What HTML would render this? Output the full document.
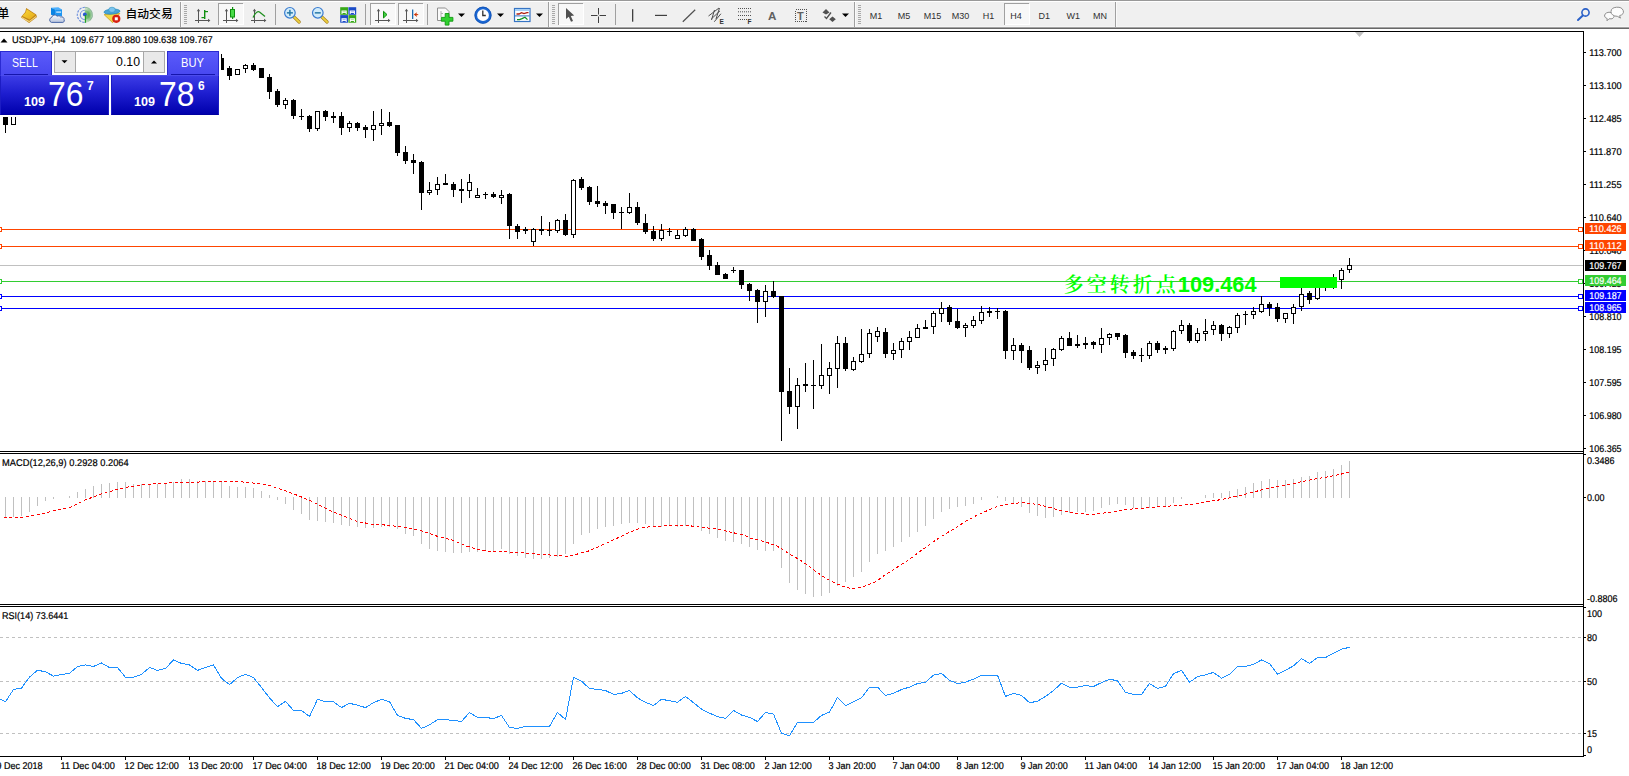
<!DOCTYPE html>
<html lang="zh"><head><meta charset="utf-8"><title>USDJPY-,H4</title>
<style>
html,body{margin:0;padding:0;background:#fff;}
body{width:1629px;height:776px;overflow:hidden;position:relative;font-family:"Liberation Sans", sans-serif;}
#tb{position:absolute;left:0;top:0;width:1629px;height:29px;background:#f0f0f0;}
#tb .l0{position:absolute;left:0;top:0;width:100%;height:1px;background:#999}
#tb .l1{position:absolute;left:0;top:1px;width:100%;height:1px;background:#fff}
#tb .l27{position:absolute;left:0;top:27px;width:100%;height:1px;background:#a2a2a2}
#tb .l26{position:absolute;left:0;top:26px;width:100%;height:1px;background:#f6f6f6}
#tb .l28{position:absolute;left:0;top:28px;width:100%;height:1px;background:#686868}
#pn{position:absolute;left:0;top:49px;width:221px;height:68px;background:#fff;}
#pn div{position:absolute;box-sizing:border-box;}
.tab{top:2px;height:24px;width:52px;background:linear-gradient(#5a5afa,#4848f0);border:1px solid #2a2ad2;border-bottom:none;color:#fff;font-size:12px;}
.tab span{position:absolute;display:block;transform-origin:0 0;white-space:nowrap;}
.pp{top:26px;height:40px;background:linear-gradient(#3c3ce6,#1e1ed0 45%,#0000ac);border:1px solid #1c1cc4;border-top-color:#4c4cec;border-bottom-color:#0000a0;color:#fff;}
.ul{height:1px;background:#1515ac;}
.big{font-size:35.6px;line-height:1;transform-origin:0 0;transform:scaleX(.895);white-space:nowrap;}
.sm{font-size:12px;font-weight:bold;line-height:1;transform-origin:0 0;transform:scaleX(1.05);}
.sup{font-size:12px;line-height:1;font-weight:bold;}
.spin{left:54px;top:2px;width:111px;height:22px;background:#fff;border:1px solid #a8a8a8;}
.sb{top:0;width:21px;height:20px;background:#e9e9e9;}

</style></head><body>
<svg id="chart" width="1629" height="776" viewBox="0 0 1629 776" shape-rendering="crispEdges" style="position:absolute;left:0;top:0"><rect x="0" y="31" width="1584" height="1" fill="#000"/>
<rect x="1583" y="31" width="1" height="726" fill="#000"/>
<rect x="0" y="451" width="1584" height="1" fill="#000"/>
<rect x="0" y="453" width="1584" height="1" fill="#000"/>
<rect x="0" y="604" width="1584" height="1" fill="#000"/>
<rect x="0" y="606" width="1584" height="1" fill="#000"/>
<rect x="0" y="756" width="1584" height="1" fill="#000"/>
<polygon points="1355,32 1364,32 1359.5,37" fill="#c0c0c0" shape-rendering="geometricPrecision"/>
<rect x="0" y="265" width="1583" height="1" fill="#c0c0c0"/>
<rect x="0" y="229" width="1583" height="1" fill="#ff4500"/>
<rect x="0" y="246" width="1583" height="1" fill="#ff4500"/>
<rect x="0" y="281" width="1583" height="1" fill="#32cd32"/>
<rect x="0" y="296" width="1583" height="1" fill="#0000ff"/>
<rect x="0" y="308" width="1583" height="1" fill="#0000ff"/>
<rect x="5" y="117" width="1" height="16" fill="#000"/>
<rect x="3" y="117" width="5" height="8" fill="#000"/>
<rect x="13" y="117" width="1" height="8" fill="#000"/>
<rect x="11" y="112" width="5" height="13" fill="#000"/>
<rect x="12" y="112" width="3" height="12" fill="#fff"/>
<rect x="221" y="54" width="1" height="16" fill="#000"/>
<rect x="219" y="58" width="5" height="12" fill="#000"/>
<rect x="229" y="66" width="1" height="14" fill="#000"/>
<rect x="227" y="68" width="5" height="8" fill="#000"/>
<rect x="237" y="69" width="1" height="6" fill="#000"/>
<rect x="235" y="69" width="5" height="6" fill="#000"/>
<rect x="236" y="70" width="3" height="4" fill="#fff"/>
<rect x="245" y="64" width="1" height="9" fill="#000"/>
<rect x="243" y="65" width="5" height="4" fill="#000"/>
<rect x="244" y="66" width="3" height="2" fill="#fff"/>
<rect x="253" y="63" width="1" height="8" fill="#000"/>
<rect x="251" y="65" width="5" height="5" fill="#000"/>
<rect x="261" y="68" width="1" height="10" fill="#000"/>
<rect x="259" y="68" width="5" height="10" fill="#000"/>
<rect x="269" y="74" width="1" height="25" fill="#000"/>
<rect x="267" y="77" width="5" height="15" fill="#000"/>
<rect x="277" y="89" width="1" height="18" fill="#000"/>
<rect x="275" y="91" width="5" height="14" fill="#000"/>
<rect x="285" y="98" width="1" height="11" fill="#000"/>
<rect x="283" y="100" width="5" height="5" fill="#000"/>
<rect x="284" y="101" width="3" height="3" fill="#fff"/>
<rect x="293" y="99" width="1" height="20" fill="#000"/>
<rect x="291" y="100" width="5" height="16" fill="#000"/>
<rect x="301" y="109" width="1" height="11" fill="#000"/>
<rect x="299" y="116" width="5" height="1" fill="#000"/>
<rect x="309" y="115" width="1" height="17" fill="#000"/>
<rect x="307" y="116" width="5" height="13" fill="#000"/>
<rect x="317" y="111" width="1" height="20" fill="#000"/>
<rect x="315" y="111" width="5" height="18" fill="#000"/>
<rect x="316" y="112" width="3" height="16" fill="#fff"/>
<rect x="325" y="110" width="1" height="11" fill="#000"/>
<rect x="323" y="111" width="5" height="6" fill="#000"/>
<rect x="333" y="112" width="1" height="11" fill="#000"/>
<rect x="331" y="116" width="5" height="2" fill="#000"/>
<rect x="341" y="112" width="1" height="23" fill="#000"/>
<rect x="339" y="116" width="5" height="12" fill="#000"/>
<rect x="349" y="121" width="1" height="11" fill="#000"/>
<rect x="347" y="123" width="5" height="5" fill="#000"/>
<rect x="348" y="124" width="3" height="3" fill="#fff"/>
<rect x="357" y="122" width="1" height="9" fill="#000"/>
<rect x="355" y="123" width="5" height="5" fill="#000"/>
<rect x="365" y="125" width="1" height="13" fill="#000"/>
<rect x="363" y="127" width="5" height="3" fill="#000"/>
<rect x="373" y="111" width="1" height="30" fill="#000"/>
<rect x="371" y="125" width="5" height="5" fill="#000"/>
<rect x="372" y="126" width="3" height="3" fill="#fff"/>
<rect x="381" y="109" width="1" height="26" fill="#000"/>
<rect x="379" y="123" width="5" height="3" fill="#000"/>
<rect x="380" y="124" width="3" height="1" fill="#fff"/>
<rect x="389" y="112" width="1" height="15" fill="#000"/>
<rect x="387" y="122" width="5" height="4" fill="#000"/>
<rect x="397" y="125" width="1" height="31" fill="#000"/>
<rect x="395" y="125" width="5" height="28" fill="#000"/>
<rect x="405" y="146" width="1" height="18" fill="#000"/>
<rect x="403" y="152" width="5" height="9" fill="#000"/>
<rect x="413" y="154" width="1" height="20" fill="#000"/>
<rect x="411" y="160" width="5" height="3" fill="#000"/>
<rect x="421" y="161" width="1" height="49" fill="#000"/>
<rect x="419" y="162" width="5" height="31" fill="#000"/>
<rect x="429" y="182" width="1" height="13" fill="#000"/>
<rect x="427" y="190" width="5" height="3" fill="#000"/>
<rect x="428" y="191" width="3" height="1" fill="#fff"/>
<rect x="437" y="177" width="1" height="18" fill="#000"/>
<rect x="435" y="184" width="5" height="6" fill="#000"/>
<rect x="436" y="185" width="3" height="4" fill="#fff"/>
<rect x="445" y="174" width="1" height="11" fill="#000"/>
<rect x="443" y="183" width="5" height="2" fill="#000"/>
<rect x="453" y="182" width="1" height="15" fill="#000"/>
<rect x="451" y="184" width="5" height="6" fill="#000"/>
<rect x="461" y="179" width="1" height="24" fill="#000"/>
<rect x="459" y="189" width="5" height="2" fill="#000"/>
<rect x="469" y="174" width="1" height="24" fill="#000"/>
<rect x="467" y="182" width="5" height="9" fill="#000"/>
<rect x="468" y="183" width="3" height="7" fill="#fff"/>
<rect x="477" y="188" width="1" height="10" fill="#000"/>
<rect x="475" y="195" width="5" height="3" fill="#000"/>
<rect x="476" y="196" width="3" height="1" fill="#fff"/>
<rect x="485" y="192" width="1" height="7" fill="#000"/>
<rect x="483" y="194" width="5" height="1" fill="#000"/>
<rect x="493" y="192" width="1" height="6" fill="#000"/>
<rect x="491" y="194" width="5" height="3" fill="#000"/>
<rect x="501" y="190" width="1" height="14" fill="#000"/>
<rect x="499" y="195" width="5" height="3" fill="#000"/>
<rect x="500" y="196" width="3" height="1" fill="#fff"/>
<rect x="509" y="193" width="1" height="46" fill="#000"/>
<rect x="507" y="194" width="5" height="32" fill="#000"/>
<rect x="517" y="224" width="1" height="15" fill="#000"/>
<rect x="515" y="226" width="5" height="6" fill="#000"/>
<rect x="525" y="227" width="1" height="7" fill="#000"/>
<rect x="523" y="229" width="5" height="2" fill="#000"/>
<rect x="533" y="228" width="1" height="18" fill="#000"/>
<rect x="531" y="229" width="5" height="13" fill="#000"/>
<rect x="532" y="230" width="3" height="11" fill="#fff"/>
<rect x="541" y="216" width="1" height="19" fill="#000"/>
<rect x="539" y="229" width="5" height="2" fill="#000"/>
<rect x="549" y="222" width="1" height="14" fill="#000"/>
<rect x="547" y="230" width="5" height="1" fill="#000"/>
<rect x="557" y="219" width="1" height="14" fill="#000"/>
<rect x="555" y="220" width="5" height="11" fill="#000"/>
<rect x="556" y="221" width="3" height="9" fill="#fff"/>
<rect x="565" y="214" width="1" height="22" fill="#000"/>
<rect x="563" y="220" width="5" height="15" fill="#000"/>
<rect x="573" y="179" width="1" height="59" fill="#000"/>
<rect x="571" y="180" width="5" height="55" fill="#000"/>
<rect x="572" y="181" width="3" height="53" fill="#fff"/>
<rect x="581" y="177" width="1" height="13" fill="#000"/>
<rect x="579" y="179" width="5" height="9" fill="#000"/>
<rect x="589" y="186" width="1" height="19" fill="#000"/>
<rect x="587" y="187" width="5" height="15" fill="#000"/>
<rect x="597" y="186" width="1" height="21" fill="#000"/>
<rect x="595" y="201" width="5" height="3" fill="#000"/>
<rect x="605" y="201" width="1" height="13" fill="#000"/>
<rect x="603" y="203" width="5" height="3" fill="#000"/>
<rect x="613" y="204" width="1" height="15" fill="#000"/>
<rect x="611" y="204" width="5" height="9" fill="#000"/>
<rect x="621" y="207" width="1" height="22" fill="#000"/>
<rect x="619" y="212" width="5" height="1" fill="#000"/>
<rect x="629" y="193" width="1" height="21" fill="#000"/>
<rect x="627" y="207" width="5" height="6" fill="#000"/>
<rect x="628" y="208" width="3" height="4" fill="#fff"/>
<rect x="637" y="202" width="1" height="23" fill="#000"/>
<rect x="635" y="207" width="5" height="16" fill="#000"/>
<rect x="645" y="214" width="1" height="20" fill="#000"/>
<rect x="643" y="223" width="5" height="9" fill="#000"/>
<rect x="653" y="226" width="1" height="15" fill="#000"/>
<rect x="651" y="231" width="5" height="8" fill="#000"/>
<rect x="661" y="224" width="1" height="17" fill="#000"/>
<rect x="659" y="230" width="5" height="9" fill="#000"/>
<rect x="660" y="231" width="3" height="7" fill="#fff"/>
<rect x="669" y="228" width="1" height="8" fill="#000"/>
<rect x="667" y="231" width="5" height="1" fill="#000"/>
<rect x="677" y="230" width="1" height="9" fill="#000"/>
<rect x="675" y="235" width="5" height="4" fill="#000"/>
<rect x="676" y="236" width="3" height="2" fill="#fff"/>
<rect x="685" y="227" width="1" height="10" fill="#000"/>
<rect x="683" y="229" width="5" height="7" fill="#000"/>
<rect x="684" y="230" width="3" height="5" fill="#fff"/>
<rect x="693" y="228" width="1" height="13" fill="#000"/>
<rect x="691" y="229" width="5" height="12" fill="#000"/>
<rect x="701" y="238" width="1" height="22" fill="#000"/>
<rect x="699" y="239" width="5" height="18" fill="#000"/>
<rect x="709" y="250" width="1" height="20" fill="#000"/>
<rect x="707" y="255" width="5" height="11" fill="#000"/>
<rect x="717" y="262" width="1" height="13" fill="#000"/>
<rect x="715" y="265" width="5" height="10" fill="#000"/>
<rect x="725" y="273" width="1" height="6" fill="#000"/>
<rect x="723" y="274" width="5" height="5" fill="#000"/>
<rect x="733" y="267" width="1" height="6" fill="#000"/>
<rect x="731" y="270" width="5" height="1" fill="#000"/>
<rect x="741" y="270" width="1" height="19" fill="#000"/>
<rect x="739" y="270" width="5" height="15" fill="#000"/>
<rect x="749" y="283" width="1" height="18" fill="#000"/>
<rect x="747" y="284" width="5" height="7" fill="#000"/>
<rect x="757" y="289" width="1" height="34" fill="#000"/>
<rect x="755" y="290" width="5" height="12" fill="#000"/>
<rect x="765" y="285" width="1" height="32" fill="#000"/>
<rect x="763" y="291" width="5" height="11" fill="#000"/>
<rect x="764" y="292" width="3" height="9" fill="#fff"/>
<rect x="773" y="281" width="1" height="17" fill="#000"/>
<rect x="771" y="291" width="5" height="6" fill="#000"/>
<rect x="781" y="296" width="1" height="145" fill="#000"/>
<rect x="779" y="296" width="5" height="96" fill="#000"/>
<rect x="789" y="368" width="1" height="46" fill="#000"/>
<rect x="787" y="391" width="5" height="16" fill="#000"/>
<rect x="797" y="378" width="1" height="51" fill="#000"/>
<rect x="795" y="385" width="5" height="22" fill="#000"/>
<rect x="796" y="386" width="3" height="20" fill="#fff"/>
<rect x="805" y="363" width="1" height="29" fill="#000"/>
<rect x="803" y="384" width="5" height="2" fill="#000"/>
<rect x="813" y="360" width="1" height="49" fill="#000"/>
<rect x="811" y="385" width="5" height="1" fill="#000"/>
<rect x="821" y="344" width="1" height="45" fill="#000"/>
<rect x="819" y="375" width="5" height="11" fill="#000"/>
<rect x="820" y="376" width="3" height="9" fill="#fff"/>
<rect x="829" y="362" width="1" height="32" fill="#000"/>
<rect x="827" y="368" width="5" height="8" fill="#000"/>
<rect x="828" y="369" width="3" height="6" fill="#fff"/>
<rect x="837" y="336" width="1" height="52" fill="#000"/>
<rect x="835" y="343" width="5" height="26" fill="#000"/>
<rect x="836" y="344" width="3" height="24" fill="#fff"/>
<rect x="845" y="337" width="1" height="34" fill="#000"/>
<rect x="843" y="343" width="5" height="26" fill="#000"/>
<rect x="853" y="357" width="1" height="14" fill="#000"/>
<rect x="851" y="361" width="5" height="9" fill="#000"/>
<rect x="852" y="362" width="3" height="7" fill="#fff"/>
<rect x="861" y="329" width="1" height="34" fill="#000"/>
<rect x="859" y="354" width="5" height="8" fill="#000"/>
<rect x="860" y="355" width="3" height="6" fill="#fff"/>
<rect x="869" y="329" width="1" height="29" fill="#000"/>
<rect x="867" y="333" width="5" height="21" fill="#000"/>
<rect x="868" y="334" width="3" height="19" fill="#fff"/>
<rect x="877" y="327" width="1" height="15" fill="#000"/>
<rect x="875" y="331" width="5" height="6" fill="#000"/>
<rect x="876" y="332" width="3" height="4" fill="#fff"/>
<rect x="885" y="328" width="1" height="30" fill="#000"/>
<rect x="883" y="332" width="5" height="22" fill="#000"/>
<rect x="893" y="343" width="1" height="17" fill="#000"/>
<rect x="891" y="350" width="5" height="4" fill="#000"/>
<rect x="892" y="351" width="3" height="2" fill="#fff"/>
<rect x="901" y="338" width="1" height="20" fill="#000"/>
<rect x="899" y="341" width="5" height="9" fill="#000"/>
<rect x="900" y="342" width="3" height="7" fill="#fff"/>
<rect x="909" y="331" width="1" height="19" fill="#000"/>
<rect x="907" y="337" width="5" height="5" fill="#000"/>
<rect x="908" y="338" width="3" height="3" fill="#fff"/>
<rect x="917" y="324" width="1" height="14" fill="#000"/>
<rect x="915" y="328" width="5" height="10" fill="#000"/>
<rect x="916" y="329" width="3" height="8" fill="#fff"/>
<rect x="925" y="320" width="1" height="9" fill="#000"/>
<rect x="923" y="327" width="5" height="2" fill="#000"/>
<rect x="933" y="311" width="1" height="23" fill="#000"/>
<rect x="931" y="313" width="5" height="14" fill="#000"/>
<rect x="932" y="314" width="3" height="12" fill="#fff"/>
<rect x="941" y="302" width="1" height="20" fill="#000"/>
<rect x="939" y="308" width="5" height="6" fill="#000"/>
<rect x="940" y="309" width="3" height="4" fill="#fff"/>
<rect x="949" y="305" width="1" height="20" fill="#000"/>
<rect x="947" y="307" width="5" height="15" fill="#000"/>
<rect x="957" y="309" width="1" height="20" fill="#000"/>
<rect x="955" y="321" width="5" height="7" fill="#000"/>
<rect x="965" y="323" width="1" height="14" fill="#000"/>
<rect x="963" y="325" width="5" height="3" fill="#000"/>
<rect x="964" y="326" width="3" height="1" fill="#fff"/>
<rect x="973" y="316" width="1" height="12" fill="#000"/>
<rect x="971" y="320" width="5" height="6" fill="#000"/>
<rect x="972" y="321" width="3" height="4" fill="#fff"/>
<rect x="981" y="306" width="1" height="18" fill="#000"/>
<rect x="979" y="312" width="5" height="9" fill="#000"/>
<rect x="980" y="313" width="3" height="7" fill="#fff"/>
<rect x="989" y="307" width="1" height="10" fill="#000"/>
<rect x="987" y="311" width="5" height="2" fill="#000"/>
<rect x="997" y="308" width="1" height="11" fill="#000"/>
<rect x="995" y="311" width="5" height="1" fill="#000"/>
<rect x="1005" y="310" width="1" height="49" fill="#000"/>
<rect x="1003" y="311" width="5" height="40" fill="#000"/>
<rect x="1013" y="338" width="1" height="22" fill="#000"/>
<rect x="1011" y="345" width="5" height="6" fill="#000"/>
<rect x="1012" y="346" width="3" height="4" fill="#fff"/>
<rect x="1021" y="343" width="1" height="20" fill="#000"/>
<rect x="1019" y="345" width="5" height="6" fill="#000"/>
<rect x="1029" y="346" width="1" height="24" fill="#000"/>
<rect x="1027" y="350" width="5" height="18" fill="#000"/>
<rect x="1037" y="361" width="1" height="13" fill="#000"/>
<rect x="1035" y="365" width="5" height="3" fill="#000"/>
<rect x="1036" y="366" width="3" height="1" fill="#fff"/>
<rect x="1045" y="348" width="1" height="23" fill="#000"/>
<rect x="1043" y="360" width="5" height="5" fill="#000"/>
<rect x="1044" y="361" width="3" height="3" fill="#fff"/>
<rect x="1053" y="348" width="1" height="18" fill="#000"/>
<rect x="1051" y="349" width="5" height="10" fill="#000"/>
<rect x="1052" y="350" width="3" height="8" fill="#fff"/>
<rect x="1061" y="336" width="1" height="15" fill="#000"/>
<rect x="1059" y="338" width="5" height="12" fill="#000"/>
<rect x="1060" y="339" width="3" height="10" fill="#fff"/>
<rect x="1069" y="332" width="1" height="14" fill="#000"/>
<rect x="1067" y="338" width="5" height="8" fill="#000"/>
<rect x="1077" y="335" width="1" height="13" fill="#000"/>
<rect x="1075" y="344" width="5" height="2" fill="#000"/>
<rect x="1085" y="337" width="1" height="12" fill="#000"/>
<rect x="1083" y="343" width="5" height="2" fill="#000"/>
<rect x="1093" y="341" width="1" height="8" fill="#000"/>
<rect x="1091" y="342" width="5" height="3" fill="#000"/>
<rect x="1101" y="328" width="1" height="25" fill="#000"/>
<rect x="1099" y="338" width="5" height="7" fill="#000"/>
<rect x="1100" y="339" width="3" height="5" fill="#fff"/>
<rect x="1109" y="333" width="1" height="12" fill="#000"/>
<rect x="1107" y="334" width="5" height="4" fill="#000"/>
<rect x="1108" y="335" width="3" height="2" fill="#fff"/>
<rect x="1117" y="333" width="1" height="7" fill="#000"/>
<rect x="1115" y="333" width="5" height="4" fill="#000"/>
<rect x="1125" y="334" width="1" height="24" fill="#000"/>
<rect x="1123" y="335" width="5" height="18" fill="#000"/>
<rect x="1133" y="350" width="1" height="9" fill="#000"/>
<rect x="1131" y="352" width="5" height="4" fill="#000"/>
<rect x="1141" y="348" width="1" height="14" fill="#000"/>
<rect x="1139" y="355" width="5" height="1" fill="#000"/>
<rect x="1149" y="341" width="1" height="18" fill="#000"/>
<rect x="1147" y="343" width="5" height="13" fill="#000"/>
<rect x="1148" y="344" width="3" height="11" fill="#fff"/>
<rect x="1157" y="341" width="1" height="12" fill="#000"/>
<rect x="1155" y="343" width="5" height="7" fill="#000"/>
<rect x="1165" y="346" width="1" height="8" fill="#000"/>
<rect x="1163" y="348" width="5" height="2" fill="#000"/>
<rect x="1173" y="330" width="1" height="21" fill="#000"/>
<rect x="1171" y="331" width="5" height="18" fill="#000"/>
<rect x="1172" y="332" width="3" height="16" fill="#fff"/>
<rect x="1181" y="320" width="1" height="14" fill="#000"/>
<rect x="1179" y="325" width="5" height="6" fill="#000"/>
<rect x="1180" y="326" width="3" height="4" fill="#fff"/>
<rect x="1189" y="323" width="1" height="20" fill="#000"/>
<rect x="1187" y="325" width="5" height="16" fill="#000"/>
<rect x="1197" y="328" width="1" height="15" fill="#000"/>
<rect x="1195" y="333" width="5" height="8" fill="#000"/>
<rect x="1196" y="334" width="3" height="6" fill="#fff"/>
<rect x="1205" y="319" width="1" height="22" fill="#000"/>
<rect x="1203" y="331" width="5" height="3" fill="#000"/>
<rect x="1204" y="332" width="3" height="1" fill="#fff"/>
<rect x="1213" y="321" width="1" height="14" fill="#000"/>
<rect x="1211" y="325" width="5" height="5" fill="#000"/>
<rect x="1212" y="326" width="3" height="3" fill="#fff"/>
<rect x="1221" y="324" width="1" height="17" fill="#000"/>
<rect x="1219" y="325" width="5" height="9" fill="#000"/>
<rect x="1229" y="326" width="1" height="12" fill="#000"/>
<rect x="1227" y="327" width="5" height="7" fill="#000"/>
<rect x="1228" y="328" width="3" height="5" fill="#fff"/>
<rect x="1237" y="313" width="1" height="20" fill="#000"/>
<rect x="1235" y="315" width="5" height="13" fill="#000"/>
<rect x="1236" y="316" width="3" height="11" fill="#fff"/>
<rect x="1245" y="311" width="1" height="14" fill="#000"/>
<rect x="1243" y="314" width="5" height="1" fill="#000"/>
<rect x="1253" y="307" width="1" height="12" fill="#000"/>
<rect x="1251" y="311" width="5" height="4" fill="#000"/>
<rect x="1252" y="312" width="3" height="2" fill="#fff"/>
<rect x="1261" y="296" width="1" height="17" fill="#000"/>
<rect x="1259" y="304" width="5" height="8" fill="#000"/>
<rect x="1260" y="305" width="3" height="6" fill="#fff"/>
<rect x="1269" y="302" width="1" height="14" fill="#000"/>
<rect x="1267" y="304" width="5" height="4" fill="#000"/>
<rect x="1277" y="303" width="1" height="19" fill="#000"/>
<rect x="1275" y="307" width="5" height="12" fill="#000"/>
<rect x="1285" y="313" width="1" height="10" fill="#000"/>
<rect x="1283" y="313" width="5" height="6" fill="#000"/>
<rect x="1284" y="314" width="3" height="4" fill="#fff"/>
<rect x="1293" y="304" width="1" height="20" fill="#000"/>
<rect x="1291" y="307" width="5" height="7" fill="#000"/>
<rect x="1292" y="308" width="3" height="5" fill="#fff"/>
<rect x="1301" y="285" width="1" height="26" fill="#000"/>
<rect x="1299" y="294" width="5" height="13" fill="#000"/>
<rect x="1300" y="295" width="3" height="11" fill="#fff"/>
<rect x="1309" y="291" width="1" height="13" fill="#000"/>
<rect x="1307" y="293" width="5" height="7" fill="#000"/>
<rect x="1317" y="283" width="1" height="17" fill="#000"/>
<rect x="1315" y="285" width="5" height="14" fill="#000"/>
<rect x="1316" y="286" width="3" height="12" fill="#fff"/>
<rect x="1325" y="279" width="1" height="12" fill="#000"/>
<rect x="1323" y="281" width="5" height="6" fill="#000"/>
<rect x="1324" y="282" width="3" height="4" fill="#fff"/>
<rect x="1333" y="274" width="1" height="15" fill="#000"/>
<rect x="1331" y="278" width="5" height="8" fill="#000"/>
<rect x="1332" y="279" width="3" height="6" fill="#fff"/>
<rect x="1341" y="268" width="1" height="21" fill="#000"/>
<rect x="1339" y="270" width="5" height="10" fill="#000"/>
<rect x="1340" y="271" width="3" height="8" fill="#fff"/>
<rect x="1349" y="258" width="1" height="15" fill="#000"/>
<rect x="1347" y="265" width="5" height="5" fill="#000"/>
<rect x="1348" y="266" width="3" height="3" fill="#fff"/>
<rect x="1280" y="277" width="57" height="11" fill="#00ff00"/>
<rect x="1578.5" y="227.5" width="4" height="4" fill="#fff" stroke="#ff4500" stroke-width="1"/>
<rect x="-2.5" y="227.5" width="4" height="4" fill="#fff" stroke="#ff4500" stroke-width="1"/>
<rect x="1578.5" y="244.5" width="4" height="4" fill="#fff" stroke="#ff4500" stroke-width="1"/>
<rect x="-2.5" y="244.5" width="4" height="4" fill="#fff" stroke="#ff4500" stroke-width="1"/>
<rect x="1578.5" y="279.5" width="4" height="4" fill="#fff" stroke="#32cd32" stroke-width="1"/>
<rect x="-2.5" y="279.5" width="4" height="4" fill="#fff" stroke="#32cd32" stroke-width="1"/>
<rect x="1578.5" y="294.5" width="4" height="4" fill="#fff" stroke="#0000ff" stroke-width="1"/>
<rect x="-2.5" y="294.5" width="4" height="4" fill="#fff" stroke="#0000ff" stroke-width="1"/>
<rect x="1578.5" y="306.5" width="4" height="4" fill="#fff" stroke="#0000ff" stroke-width="1"/>
<rect x="-2.5" y="306.5" width="4" height="4" fill="#fff" stroke="#0000ff" stroke-width="1"/>
<rect x="5" y="497" width="1" height="20" fill="#c0c0c0"/>
<rect x="13" y="497" width="1" height="20" fill="#c0c0c0"/>
<rect x="21" y="497" width="1" height="19" fill="#c0c0c0"/>
<rect x="29" y="497" width="1" height="15" fill="#c0c0c0"/>
<rect x="37" y="497" width="1" height="9" fill="#c0c0c0"/>
<rect x="45" y="497" width="1" height="4" fill="#c0c0c0"/>
<rect x="53" y="497" width="1" height="2" fill="#c0c0c0"/>
<rect x="69" y="496" width="1" height="2" fill="#c0c0c0"/>
<rect x="77" y="492" width="1" height="6" fill="#c0c0c0"/>
<rect x="85" y="489" width="1" height="9" fill="#c0c0c0"/>
<rect x="93" y="486" width="1" height="12" fill="#c0c0c0"/>
<rect x="101" y="484" width="1" height="14" fill="#c0c0c0"/>
<rect x="109" y="483" width="1" height="15" fill="#c0c0c0"/>
<rect x="117" y="482" width="1" height="16" fill="#c0c0c0"/>
<rect x="125" y="482" width="1" height="16" fill="#c0c0c0"/>
<rect x="133" y="484" width="1" height="14" fill="#c0c0c0"/>
<rect x="141" y="484" width="1" height="14" fill="#c0c0c0"/>
<rect x="149" y="484" width="1" height="14" fill="#c0c0c0"/>
<rect x="157" y="484" width="1" height="14" fill="#c0c0c0"/>
<rect x="165" y="483" width="1" height="15" fill="#c0c0c0"/>
<rect x="173" y="482" width="1" height="16" fill="#c0c0c0"/>
<rect x="181" y="479" width="1" height="19" fill="#c0c0c0"/>
<rect x="189" y="479" width="1" height="19" fill="#c0c0c0"/>
<rect x="197" y="481" width="1" height="17" fill="#c0c0c0"/>
<rect x="205" y="481" width="1" height="17" fill="#c0c0c0"/>
<rect x="213" y="481" width="1" height="17" fill="#c0c0c0"/>
<rect x="221" y="482" width="1" height="16" fill="#c0c0c0"/>
<rect x="229" y="486" width="1" height="12" fill="#c0c0c0"/>
<rect x="237" y="487" width="1" height="11" fill="#c0c0c0"/>
<rect x="245" y="487" width="1" height="11" fill="#c0c0c0"/>
<rect x="253" y="488" width="1" height="10" fill="#c0c0c0"/>
<rect x="261" y="491" width="1" height="7" fill="#c0c0c0"/>
<rect x="269" y="495" width="1" height="3" fill="#c0c0c0"/>
<rect x="277" y="497" width="1" height="3" fill="#c0c0c0"/>
<rect x="285" y="497" width="1" height="7" fill="#c0c0c0"/>
<rect x="293" y="497" width="1" height="13" fill="#c0c0c0"/>
<rect x="301" y="497" width="1" height="17" fill="#c0c0c0"/>
<rect x="309" y="497" width="1" height="23" fill="#c0c0c0"/>
<rect x="317" y="497" width="1" height="24" fill="#c0c0c0"/>
<rect x="325" y="497" width="1" height="25" fill="#c0c0c0"/>
<rect x="333" y="497" width="1" height="26" fill="#c0c0c0"/>
<rect x="341" y="497" width="1" height="28" fill="#c0c0c0"/>
<rect x="349" y="497" width="1" height="29" fill="#c0c0c0"/>
<rect x="357" y="497" width="1" height="30" fill="#c0c0c0"/>
<rect x="365" y="497" width="1" height="31" fill="#c0c0c0"/>
<rect x="373" y="497" width="1" height="31" fill="#c0c0c0"/>
<rect x="381" y="497" width="1" height="30" fill="#c0c0c0"/>
<rect x="389" y="497" width="1" height="30" fill="#c0c0c0"/>
<rect x="397" y="497" width="1" height="32" fill="#c0c0c0"/>
<rect x="405" y="497" width="1" height="37" fill="#c0c0c0"/>
<rect x="413" y="497" width="1" height="39" fill="#c0c0c0"/>
<rect x="421" y="497" width="1" height="47" fill="#c0c0c0"/>
<rect x="429" y="497" width="1" height="52" fill="#c0c0c0"/>
<rect x="437" y="497" width="1" height="54" fill="#c0c0c0"/>
<rect x="445" y="497" width="1" height="55" fill="#c0c0c0"/>
<rect x="453" y="497" width="1" height="56" fill="#c0c0c0"/>
<rect x="461" y="497" width="1" height="56" fill="#c0c0c0"/>
<rect x="469" y="497" width="1" height="55" fill="#c0c0c0"/>
<rect x="477" y="497" width="1" height="55" fill="#c0c0c0"/>
<rect x="485" y="497" width="1" height="54" fill="#c0c0c0"/>
<rect x="493" y="497" width="1" height="54" fill="#c0c0c0"/>
<rect x="501" y="497" width="1" height="52" fill="#c0c0c0"/>
<rect x="509" y="497" width="1" height="57" fill="#c0c0c0"/>
<rect x="517" y="497" width="1" height="59" fill="#c0c0c0"/>
<rect x="525" y="497" width="1" height="61" fill="#c0c0c0"/>
<rect x="533" y="497" width="1" height="62" fill="#c0c0c0"/>
<rect x="541" y="497" width="1" height="62" fill="#c0c0c0"/>
<rect x="549" y="497" width="1" height="61" fill="#c0c0c0"/>
<rect x="557" y="497" width="1" height="60" fill="#c0c0c0"/>
<rect x="565" y="497" width="1" height="57" fill="#c0c0c0"/>
<rect x="573" y="497" width="1" height="47" fill="#c0c0c0"/>
<rect x="581" y="497" width="1" height="38" fill="#c0c0c0"/>
<rect x="589" y="497" width="1" height="36" fill="#c0c0c0"/>
<rect x="597" y="497" width="1" height="32" fill="#c0c0c0"/>
<rect x="605" y="497" width="1" height="30" fill="#c0c0c0"/>
<rect x="613" y="497" width="1" height="29" fill="#c0c0c0"/>
<rect x="621" y="497" width="1" height="27" fill="#c0c0c0"/>
<rect x="629" y="497" width="1" height="26" fill="#c0c0c0"/>
<rect x="637" y="497" width="1" height="26" fill="#c0c0c0"/>
<rect x="645" y="497" width="1" height="27" fill="#c0c0c0"/>
<rect x="653" y="497" width="1" height="29" fill="#c0c0c0"/>
<rect x="661" y="497" width="1" height="30" fill="#c0c0c0"/>
<rect x="669" y="497" width="1" height="29" fill="#c0c0c0"/>
<rect x="677" y="497" width="1" height="30" fill="#c0c0c0"/>
<rect x="685" y="497" width="1" height="29" fill="#c0c0c0"/>
<rect x="693" y="497" width="1" height="30" fill="#c0c0c0"/>
<rect x="701" y="497" width="1" height="34" fill="#c0c0c0"/>
<rect x="709" y="497" width="1" height="37" fill="#c0c0c0"/>
<rect x="717" y="497" width="1" height="41" fill="#c0c0c0"/>
<rect x="725" y="497" width="1" height="44" fill="#c0c0c0"/>
<rect x="733" y="497" width="1" height="45" fill="#c0c0c0"/>
<rect x="741" y="497" width="1" height="47" fill="#c0c0c0"/>
<rect x="749" y="497" width="1" height="50" fill="#c0c0c0"/>
<rect x="757" y="497" width="1" height="53" fill="#c0c0c0"/>
<rect x="765" y="497" width="1" height="54" fill="#c0c0c0"/>
<rect x="773" y="497" width="1" height="54" fill="#c0c0c0"/>
<rect x="781" y="497" width="1" height="71" fill="#c0c0c0"/>
<rect x="789" y="497" width="1" height="86" fill="#c0c0c0"/>
<rect x="797" y="497" width="1" height="93" fill="#c0c0c0"/>
<rect x="805" y="497" width="1" height="97" fill="#c0c0c0"/>
<rect x="813" y="497" width="1" height="100" fill="#c0c0c0"/>
<rect x="821" y="497" width="1" height="99" fill="#c0c0c0"/>
<rect x="829" y="497" width="1" height="96" fill="#c0c0c0"/>
<rect x="837" y="497" width="1" height="89" fill="#c0c0c0"/>
<rect x="845" y="497" width="1" height="85" fill="#c0c0c0"/>
<rect x="853" y="497" width="1" height="80" fill="#c0c0c0"/>
<rect x="861" y="497" width="1" height="75" fill="#c0c0c0"/>
<rect x="869" y="497" width="1" height="65" fill="#c0c0c0"/>
<rect x="877" y="497" width="1" height="57" fill="#c0c0c0"/>
<rect x="885" y="497" width="1" height="54" fill="#c0c0c0"/>
<rect x="893" y="497" width="1" height="50" fill="#c0c0c0"/>
<rect x="901" y="497" width="1" height="45" fill="#c0c0c0"/>
<rect x="909" y="497" width="1" height="40" fill="#c0c0c0"/>
<rect x="917" y="497" width="1" height="35" fill="#c0c0c0"/>
<rect x="925" y="497" width="1" height="29" fill="#c0c0c0"/>
<rect x="933" y="497" width="1" height="22" fill="#c0c0c0"/>
<rect x="941" y="497" width="1" height="15" fill="#c0c0c0"/>
<rect x="949" y="497" width="1" height="12" fill="#c0c0c0"/>
<rect x="957" y="497" width="1" height="10" fill="#c0c0c0"/>
<rect x="965" y="497" width="1" height="9" fill="#c0c0c0"/>
<rect x="973" y="497" width="1" height="7" fill="#c0c0c0"/>
<rect x="981" y="497" width="1" height="3" fill="#c0c0c0"/>
<rect x="997" y="496" width="1" height="2" fill="#c0c0c0"/>
<rect x="1005" y="497" width="1" height="4" fill="#c0c0c0"/>
<rect x="1013" y="497" width="1" height="6" fill="#c0c0c0"/>
<rect x="1021" y="497" width="1" height="10" fill="#c0c0c0"/>
<rect x="1029" y="497" width="1" height="16" fill="#c0c0c0"/>
<rect x="1037" y="497" width="1" height="19" fill="#c0c0c0"/>
<rect x="1045" y="497" width="1" height="21" fill="#c0c0c0"/>
<rect x="1053" y="497" width="1" height="20" fill="#c0c0c0"/>
<rect x="1061" y="497" width="1" height="18" fill="#c0c0c0"/>
<rect x="1069" y="497" width="1" height="16" fill="#c0c0c0"/>
<rect x="1077" y="497" width="1" height="15" fill="#c0c0c0"/>
<rect x="1085" y="497" width="1" height="15" fill="#c0c0c0"/>
<rect x="1093" y="497" width="1" height="14" fill="#c0c0c0"/>
<rect x="1101" y="497" width="1" height="11" fill="#c0c0c0"/>
<rect x="1109" y="497" width="1" height="8" fill="#c0c0c0"/>
<rect x="1117" y="497" width="1" height="7" fill="#c0c0c0"/>
<rect x="1125" y="497" width="1" height="8" fill="#c0c0c0"/>
<rect x="1133" y="497" width="1" height="11" fill="#c0c0c0"/>
<rect x="1141" y="497" width="1" height="11" fill="#c0c0c0"/>
<rect x="1149" y="497" width="1" height="11" fill="#c0c0c0"/>
<rect x="1157" y="497" width="1" height="10" fill="#c0c0c0"/>
<rect x="1165" y="497" width="1" height="9" fill="#c0c0c0"/>
<rect x="1173" y="497" width="1" height="6" fill="#c0c0c0"/>
<rect x="1181" y="497" width="1" height="2" fill="#c0c0c0"/>
<rect x="1205" y="495" width="1" height="3" fill="#c0c0c0"/>
<rect x="1213" y="493" width="1" height="5" fill="#c0c0c0"/>
<rect x="1221" y="493" width="1" height="5" fill="#c0c0c0"/>
<rect x="1229" y="491" width="1" height="7" fill="#c0c0c0"/>
<rect x="1237" y="489" width="1" height="9" fill="#c0c0c0"/>
<rect x="1245" y="487" width="1" height="11" fill="#c0c0c0"/>
<rect x="1253" y="483" width="1" height="15" fill="#c0c0c0"/>
<rect x="1261" y="481" width="1" height="17" fill="#c0c0c0"/>
<rect x="1269" y="479" width="1" height="19" fill="#c0c0c0"/>
<rect x="1277" y="480" width="1" height="18" fill="#c0c0c0"/>
<rect x="1285" y="480" width="1" height="18" fill="#c0c0c0"/>
<rect x="1293" y="479" width="1" height="19" fill="#c0c0c0"/>
<rect x="1301" y="477" width="1" height="21" fill="#c0c0c0"/>
<rect x="1309" y="476" width="1" height="22" fill="#c0c0c0"/>
<rect x="1317" y="472" width="1" height="26" fill="#c0c0c0"/>
<rect x="1325" y="471" width="1" height="27" fill="#c0c0c0"/>
<rect x="1333" y="469" width="1" height="29" fill="#c0c0c0"/>
<rect x="1341" y="465" width="1" height="33" fill="#c0c0c0"/>
<rect x="1349" y="461" width="1" height="37" fill="#c0c0c0"/>
<polyline points="3.9,517.4 21.6,517.2 39.3,514.5 55.0,510.6 70.7,507.0 82.5,501.1 100.2,494.3 117.9,489.3 125.7,487.4 141.5,484.8 157.2,483.6 176.8,482.5 196.5,482.1 216.1,481.5 235.8,481.5 249.5,482.5 269.2,485.4 280.9,489.3 294.7,494.3 304.5,498.2 317.5,504.1 322.0,506.4 333.8,512.3 345.5,516.9 357.3,521.4 371.1,524.1 388.8,525.3 406.4,527.7 422.2,531.0 437.9,536.5 453.6,540.4 465.4,545.7 477.2,549.3 487.0,551.2 506.6,551.8 526.3,553.2 542.0,554.6 557.7,555.4 566.6,556.5 575.4,554.6 589.2,550.8 604.9,543.8 618.6,537.5 630.4,532.0 640.0,528.4 651.8,526.3 669.5,525.7 689.1,525.7 704.8,527.7 718.6,529.2 730.4,532.2 742.2,534.5 750.0,537.9 765.7,542.0 777.5,546.3 789.3,553.8 803.1,562.0 814.9,570.9 826.6,578.7 838.4,584.6 846.3,587.6 853.2,588.6 862.0,587.2 875.8,581.7 887.5,573.2 899.3,566.0 911.1,558.1 922.9,549.3 934.7,540.8 946.5,533.2 960.0,525.3 963.0,522.7 975.7,515.9 989.5,509.6 999.3,505.7 1013.0,503.5 1022.9,502.5 1038.6,504.7 1048.4,507.0 1062.2,511.0 1077.9,513.5 1093.6,514.5 1109.3,512.3 1127.0,509.4 1144.7,508.0 1162.4,506.4 1180.0,505.5 1195.8,503.7 1209.5,501.5 1223.3,499.2 1235.0,496.6 1248.8,493.3 1262.6,489.7 1278.6,486.0 1292.3,483.8 1302.2,481.5 1317.9,478.5 1329.7,476.6 1341.5,474.0 1349.5,472.3" fill="none" stroke="#ff0000" stroke-width="1" stroke-dasharray="3,2.5" shape-rendering="crispEdges"/>
<line x1="0" y1="637.5" x2="1583" y2="637.5" stroke="#c0c0c0" stroke-width="1" stroke-dasharray="3,3"/>
<line x1="0" y1="681.5" x2="1583" y2="681.5" stroke="#c0c0c0" stroke-width="1" stroke-dasharray="3,3"/>
<line x1="0" y1="733.5" x2="1583" y2="733.5" stroke="#c0c0c0" stroke-width="1" stroke-dasharray="3,3"/>
<polyline points="-3,697.9 5.5,701.7 13.5,689.5 21.5,688.1 29.5,677.1 37.5,670.2 45.5,671.8 53.5,676.1 61.5,674.4 69.5,673.4 77.5,666.5 85.5,664.9 93.5,666.5 101.5,663.0 109.5,667.5 117.5,667.5 125.5,677.3 133.5,677.3 141.5,674.4 149.5,667.5 157.5,670.4 165.5,668.5 173.5,660.0 181.5,663.4 189.5,664.9 197.5,670.4 205.5,667.5 213.5,664.9 221.5,678.3 229.5,684.6 237.5,677.7 245.5,674.2 253.5,677.7 261.5,687.5 269.5,697.9 277.5,706.6 285.5,701.3 293.5,710.5 301.5,710.5 309.5,716.6 317.5,699.3 325.5,701.7 333.5,701.7 341.5,707.6 349.5,703.3 357.5,705.2 365.5,707.6 373.5,702.7 381.5,699.3 389.5,701.7 397.5,715.4 405.5,718.4 413.5,719.6 421.5,728.4 429.5,724.9 437.5,719.6 445.5,719.6 453.5,720.5 461.5,721.5 469.5,712.5 477.5,717.4 485.5,717.4 493.5,718.6 501.5,715.4 509.5,727.4 517.5,728.4 525.5,726.4 533.5,726.4 541.5,726.4 549.5,726.4 557.5,712.5 565.5,719.6 573.5,677.3 581.5,681.2 589.5,688.5 597.5,689.5 605.5,690.5 613.5,694.4 621.5,693.4 629.5,690.5 637.5,697.9 645.5,702.3 653.5,705.6 661.5,699.3 669.5,700.7 677.5,702.3 685.5,696.4 693.5,702.7 701.5,709.1 709.5,713.1 717.5,716.6 725.5,718.4 733.5,710.5 741.5,715.0 749.5,717.4 757.5,721.5 765.5,712.5 773.5,714.1 781.5,733.3 789.5,735.7 797.5,722.5 805.5,722.5 813.5,722.5 821.5,715.4 829.5,712.1 837.5,697.4 845.5,705.6 853.5,701.7 861.5,697.9 869.5,687.1 877.5,687.1 885.5,695.4 893.5,693.4 901.5,689.5 909.5,687.1 917.5,683.6 925.5,682.2 933.5,675.2 941.5,673.4 949.5,680.3 957.5,683.6 965.5,682.2 973.5,679.1 981.5,675.2 989.5,675.2 997.5,675.2 1005.5,696.4 1013.5,693.4 1021.5,695.4 1029.5,702.7 1037.5,701.3 1045.5,696.4 1053.5,690.5 1061.5,683.2 1069.5,687.1 1077.5,687.1 1085.5,685.6 1093.5,686.5 1101.5,682.6 1109.5,679.3 1117.5,680.7 1125.5,692.4 1133.5,694.4 1141.5,694.4 1149.5,683.6 1157.5,688.5 1165.5,686.2 1173.5,673.8 1181.5,670.2 1189.5,682.2 1197.5,676.7 1205.5,674.8 1213.5,672.4 1221.5,678.3 1229.5,674.4 1237.5,666.3 1245.5,666.3 1253.5,664.3 1261.5,660.0 1269.5,663.6 1277.5,674.2 1285.5,670.2 1293.5,665.9 1301.5,658.5 1309.5,663.4 1317.5,657.5 1325.5,657.5 1333.5,653.2 1341.5,649.2 1349.5,647.3" fill="none" stroke="#1e90ff" stroke-width="1" shape-rendering="crispEdges"/>
<rect x="1584" y="52" width="2" height="1" fill="#000"/>
<rect x="1584" y="85" width="2" height="1" fill="#000"/>
<rect x="1584" y="118" width="2" height="1" fill="#000"/>
<rect x="1584" y="151" width="2" height="1" fill="#000"/>
<rect x="1584" y="184" width="2" height="1" fill="#000"/>
<rect x="1584" y="217" width="2" height="1" fill="#000"/>
<rect x="1584" y="250" width="2" height="1" fill="#000"/>
<rect x="1584" y="283" width="2" height="1" fill="#000"/>
<rect x="1584" y="316" width="2" height="1" fill="#000"/>
<rect x="1584" y="349" width="2" height="1" fill="#000"/>
<rect x="1584" y="382" width="2" height="1" fill="#000"/>
<rect x="1584" y="415" width="2" height="1" fill="#000"/>
<rect x="1584" y="448" width="2" height="1" fill="#000"/>
<rect x="1584" y="497" width="2" height="1" fill="#000"/>
<rect x="1584" y="454" width="2" height="1" fill="#000"/>
<rect x="1584" y="607" width="2" height="1" fill="#000"/>
<rect x="1584" y="637" width="2" height="1" fill="#000"/>
<rect x="1584" y="681" width="2" height="1" fill="#000"/>
<rect x="1584" y="733" width="2" height="1" fill="#000"/>
<rect x="1584" y="755" width="2" height="1" fill="#000"/>
<rect x="-3" y="757" width="1" height="3" fill="#000"/>
<rect x="61" y="757" width="1" height="3" fill="#000"/>
<rect x="125" y="757" width="1" height="3" fill="#000"/>
<rect x="189" y="757" width="1" height="3" fill="#000"/>
<rect x="253" y="757" width="1" height="3" fill="#000"/>
<rect x="317" y="757" width="1" height="3" fill="#000"/>
<rect x="381" y="757" width="1" height="3" fill="#000"/>
<rect x="445" y="757" width="1" height="3" fill="#000"/>
<rect x="509" y="757" width="1" height="3" fill="#000"/>
<rect x="573" y="757" width="1" height="3" fill="#000"/>
<rect x="637" y="757" width="1" height="3" fill="#000"/>
<rect x="701" y="757" width="1" height="3" fill="#000"/>
<rect x="765" y="757" width="1" height="3" fill="#000"/>
<rect x="829" y="757" width="1" height="3" fill="#000"/>
<rect x="893" y="757" width="1" height="3" fill="#000"/>
<rect x="957" y="757" width="1" height="3" fill="#000"/>
<rect x="1021" y="757" width="1" height="3" fill="#000"/>
<rect x="1085" y="757" width="1" height="3" fill="#000"/>
<rect x="1149" y="757" width="1" height="3" fill="#000"/>
<rect x="1213" y="757" width="1" height="3" fill="#000"/>
<rect x="1277" y="757" width="1" height="3" fill="#000"/>
<rect x="1341" y="757" width="1" height="3" fill="#000"/>
<polygon points="0.5,42.5 7.5,42.5 4,38.5" fill="#000" shape-rendering="geometricPrecision"/>
<text x="1589.3" y="56" font-size="9.8" fill="#000" text-anchor="start" font-weight="normal" font-family='"Liberation Sans", sans-serif' textLength="32.3" lengthAdjust="spacingAndGlyphs" text-rendering="geometricPrecision" stroke="#000" stroke-width="0.2">113.700</text>
<text x="1589.3" y="89" font-size="9.8" fill="#000" text-anchor="start" font-weight="normal" font-family='"Liberation Sans", sans-serif' textLength="32.3" lengthAdjust="spacingAndGlyphs" text-rendering="geometricPrecision" stroke="#000" stroke-width="0.2">113.100</text>
<text x="1589.3" y="122" font-size="9.8" fill="#000" text-anchor="start" font-weight="normal" font-family='"Liberation Sans", sans-serif' textLength="32.3" lengthAdjust="spacingAndGlyphs" text-rendering="geometricPrecision" stroke="#000" stroke-width="0.2">112.485</text>
<text x="1589.3" y="155" font-size="9.8" fill="#000" text-anchor="start" font-weight="normal" font-family='"Liberation Sans", sans-serif' textLength="32.3" lengthAdjust="spacingAndGlyphs" text-rendering="geometricPrecision" stroke="#000" stroke-width="0.2">111.870</text>
<text x="1589.3" y="188" font-size="9.8" fill="#000" text-anchor="start" font-weight="normal" font-family='"Liberation Sans", sans-serif' textLength="32.3" lengthAdjust="spacingAndGlyphs" text-rendering="geometricPrecision" stroke="#000" stroke-width="0.2">111.255</text>
<text x="1589.3" y="221" font-size="9.8" fill="#000" text-anchor="start" font-weight="normal" font-family='"Liberation Sans", sans-serif' textLength="32.3" lengthAdjust="spacingAndGlyphs" text-rendering="geometricPrecision" stroke="#000" stroke-width="0.2">110.640</text>
<text x="1589.3" y="254" font-size="9.8" fill="#000" text-anchor="start" font-weight="normal" font-family='"Liberation Sans", sans-serif' textLength="32.3" lengthAdjust="spacingAndGlyphs" text-rendering="geometricPrecision" stroke="#000" stroke-width="0.2">110.040</text>
<text x="1589.3" y="287" font-size="9.8" fill="#000" text-anchor="start" font-weight="normal" font-family='"Liberation Sans", sans-serif' textLength="32.3" lengthAdjust="spacingAndGlyphs" text-rendering="geometricPrecision" stroke="#000" stroke-width="0.2">109.425</text>
<text x="1589.3" y="320" font-size="9.8" fill="#000" text-anchor="start" font-weight="normal" font-family='"Liberation Sans", sans-serif' textLength="32.3" lengthAdjust="spacingAndGlyphs" text-rendering="geometricPrecision" stroke="#000" stroke-width="0.2">108.810</text>
<text x="1589.3" y="353" font-size="9.8" fill="#000" text-anchor="start" font-weight="normal" font-family='"Liberation Sans", sans-serif' textLength="32.3" lengthAdjust="spacingAndGlyphs" text-rendering="geometricPrecision" stroke="#000" stroke-width="0.2">108.195</text>
<text x="1589.3" y="386" font-size="9.8" fill="#000" text-anchor="start" font-weight="normal" font-family='"Liberation Sans", sans-serif' textLength="32.3" lengthAdjust="spacingAndGlyphs" text-rendering="geometricPrecision" stroke="#000" stroke-width="0.2">107.595</text>
<text x="1589.3" y="419" font-size="9.8" fill="#000" text-anchor="start" font-weight="normal" font-family='"Liberation Sans", sans-serif' textLength="32.3" lengthAdjust="spacingAndGlyphs" text-rendering="geometricPrecision" stroke="#000" stroke-width="0.2">106.980</text>
<text x="1589.3" y="452" font-size="9.8" fill="#000" text-anchor="start" font-weight="normal" font-family='"Liberation Sans", sans-serif' textLength="32.3" lengthAdjust="spacingAndGlyphs" text-rendering="geometricPrecision" stroke="#000" stroke-width="0.2">106.365</text>
<text x="1587" y="464.2" font-size="9.8" fill="#000" text-anchor="start" font-weight="normal" font-family='"Liberation Sans", sans-serif' textLength="27.5" lengthAdjust="spacingAndGlyphs" text-rendering="geometricPrecision" stroke="#000" stroke-width="0.2">0.3486</text>
<text x="1587" y="500.8" font-size="9.8" fill="#000" text-anchor="start" font-weight="normal" font-family='"Liberation Sans", sans-serif' textLength="17.5" lengthAdjust="spacingAndGlyphs" text-rendering="geometricPrecision" stroke="#000" stroke-width="0.2">0.00</text>
<text x="1587" y="601.5" font-size="9.8" fill="#000" text-anchor="start" font-weight="normal" font-family='"Liberation Sans", sans-serif' textLength="30.5" lengthAdjust="spacingAndGlyphs" text-rendering="geometricPrecision" stroke="#000" stroke-width="0.2">-0.8806</text>
<text x="1587" y="616.9" font-size="9.8" fill="#000" text-anchor="start" font-weight="normal" font-family='"Liberation Sans", sans-serif' textLength="15.0" lengthAdjust="spacingAndGlyphs" text-rendering="geometricPrecision" stroke="#000" stroke-width="0.2">100</text>
<text x="1587" y="640.6999999999999" font-size="9.8" fill="#000" text-anchor="start" font-weight="normal" font-family='"Liberation Sans", sans-serif' textLength="10.0" lengthAdjust="spacingAndGlyphs" text-rendering="geometricPrecision" stroke="#000" stroke-width="0.2">80</text>
<text x="1587" y="684.6999999999999" font-size="9.8" fill="#000" text-anchor="start" font-weight="normal" font-family='"Liberation Sans", sans-serif' textLength="10.0" lengthAdjust="spacingAndGlyphs" text-rendering="geometricPrecision" stroke="#000" stroke-width="0.2">50</text>
<text x="1587" y="736.8" font-size="9.8" fill="#000" text-anchor="start" font-weight="normal" font-family='"Liberation Sans", sans-serif' textLength="10.0" lengthAdjust="spacingAndGlyphs" text-rendering="geometricPrecision" stroke="#000" stroke-width="0.2">15</text>
<text x="1587" y="752.9" font-size="9.8" fill="#000" text-anchor="start" font-weight="normal" font-family='"Liberation Sans", sans-serif' textLength="5.0" lengthAdjust="spacingAndGlyphs" text-rendering="geometricPrecision" stroke="#000" stroke-width="0.2">0</text>
<rect x="1585" y="223" width="41" height="11" fill="#ff4500"/>
<text x="1589.3" y="232" font-size="9.8" fill="#fff" text-anchor="start" font-weight="normal" font-family='"Liberation Sans", sans-serif' textLength="32.3" lengthAdjust="spacingAndGlyphs" text-rendering="geometricPrecision" stroke="#fff" stroke-width="0.2">110.426</text>
<rect x="1585" y="240" width="41" height="11" fill="#ff4500"/>
<text x="1589.3" y="249" font-size="9.8" fill="#fff" text-anchor="start" font-weight="normal" font-family='"Liberation Sans", sans-serif' textLength="32.3" lengthAdjust="spacingAndGlyphs" text-rendering="geometricPrecision" stroke="#fff" stroke-width="0.2">110.112</text>
<rect x="1585" y="260" width="41" height="11" fill="#000000"/>
<text x="1589.3" y="269" font-size="9.8" fill="#fff" text-anchor="start" font-weight="normal" font-family='"Liberation Sans", sans-serif' textLength="32.3" lengthAdjust="spacingAndGlyphs" text-rendering="geometricPrecision" stroke="#fff" stroke-width="0.2">109.767</text>
<rect x="1585" y="275" width="41" height="11" fill="#32cd32"/>
<text x="1589.3" y="284" font-size="9.8" fill="#fff" text-anchor="start" font-weight="normal" font-family='"Liberation Sans", sans-serif' textLength="32.3" lengthAdjust="spacingAndGlyphs" text-rendering="geometricPrecision" stroke="#fff" stroke-width="0.2">109.464</text>
<rect x="1585" y="290" width="41" height="11" fill="#0000ff"/>
<text x="1589.3" y="299" font-size="9.8" fill="#fff" text-anchor="start" font-weight="normal" font-family='"Liberation Sans", sans-serif' textLength="32.3" lengthAdjust="spacingAndGlyphs" text-rendering="geometricPrecision" stroke="#fff" stroke-width="0.2">109.187</text>
<rect x="1585" y="302" width="41" height="11" fill="#0000ff"/>
<text x="1589.3" y="311" font-size="9.8" fill="#fff" text-anchor="start" font-weight="normal" font-family='"Liberation Sans", sans-serif' textLength="32.3" lengthAdjust="spacingAndGlyphs" text-rendering="geometricPrecision" stroke="#fff" stroke-width="0.2">108.965</text>
<text x="-3.5" y="768.6" font-size="9.8" fill="#000" text-anchor="start" font-weight="normal" font-family='"Liberation Sans", sans-serif' textLength="46.0" lengthAdjust="spacingAndGlyphs" text-rendering="geometricPrecision" stroke="#000" stroke-width="0.2">9 Dec 2018</text>
<text x="60.5" y="768.6" font-size="9.8" fill="#000" text-anchor="start" font-weight="normal" font-family='"Liberation Sans", sans-serif' textLength="54.3" lengthAdjust="spacingAndGlyphs" text-rendering="geometricPrecision" stroke="#000" stroke-width="0.2">11 Dec 04:00</text>
<text x="124.5" y="768.6" font-size="9.8" fill="#000" text-anchor="start" font-weight="normal" font-family='"Liberation Sans", sans-serif' textLength="54.3" lengthAdjust="spacingAndGlyphs" text-rendering="geometricPrecision" stroke="#000" stroke-width="0.2">12 Dec 12:00</text>
<text x="188.5" y="768.6" font-size="9.8" fill="#000" text-anchor="start" font-weight="normal" font-family='"Liberation Sans", sans-serif' textLength="54.3" lengthAdjust="spacingAndGlyphs" text-rendering="geometricPrecision" stroke="#000" stroke-width="0.2">13 Dec 20:00</text>
<text x="252.5" y="768.6" font-size="9.8" fill="#000" text-anchor="start" font-weight="normal" font-family='"Liberation Sans", sans-serif' textLength="54.3" lengthAdjust="spacingAndGlyphs" text-rendering="geometricPrecision" stroke="#000" stroke-width="0.2">17 Dec 04:00</text>
<text x="316.5" y="768.6" font-size="9.8" fill="#000" text-anchor="start" font-weight="normal" font-family='"Liberation Sans", sans-serif' textLength="54.3" lengthAdjust="spacingAndGlyphs" text-rendering="geometricPrecision" stroke="#000" stroke-width="0.2">18 Dec 12:00</text>
<text x="380.5" y="768.6" font-size="9.8" fill="#000" text-anchor="start" font-weight="normal" font-family='"Liberation Sans", sans-serif' textLength="54.3" lengthAdjust="spacingAndGlyphs" text-rendering="geometricPrecision" stroke="#000" stroke-width="0.2">19 Dec 20:00</text>
<text x="444.5" y="768.6" font-size="9.8" fill="#000" text-anchor="start" font-weight="normal" font-family='"Liberation Sans", sans-serif' textLength="54.3" lengthAdjust="spacingAndGlyphs" text-rendering="geometricPrecision" stroke="#000" stroke-width="0.2">21 Dec 04:00</text>
<text x="508.5" y="768.6" font-size="9.8" fill="#000" text-anchor="start" font-weight="normal" font-family='"Liberation Sans", sans-serif' textLength="54.3" lengthAdjust="spacingAndGlyphs" text-rendering="geometricPrecision" stroke="#000" stroke-width="0.2">24 Dec 12:00</text>
<text x="572.5" y="768.6" font-size="9.8" fill="#000" text-anchor="start" font-weight="normal" font-family='"Liberation Sans", sans-serif' textLength="54.3" lengthAdjust="spacingAndGlyphs" text-rendering="geometricPrecision" stroke="#000" stroke-width="0.2">26 Dec 16:00</text>
<text x="636.5" y="768.6" font-size="9.8" fill="#000" text-anchor="start" font-weight="normal" font-family='"Liberation Sans", sans-serif' textLength="54.3" lengthAdjust="spacingAndGlyphs" text-rendering="geometricPrecision" stroke="#000" stroke-width="0.2">28 Dec 00:00</text>
<text x="700.5" y="768.6" font-size="9.8" fill="#000" text-anchor="start" font-weight="normal" font-family='"Liberation Sans", sans-serif' textLength="54.3" lengthAdjust="spacingAndGlyphs" text-rendering="geometricPrecision" stroke="#000" stroke-width="0.2">31 Dec 08:00</text>
<text x="764.5" y="768.6" font-size="9.8" fill="#000" text-anchor="start" font-weight="normal" font-family='"Liberation Sans", sans-serif' textLength="47.3" lengthAdjust="spacingAndGlyphs" text-rendering="geometricPrecision" stroke="#000" stroke-width="0.2">2 Jan 12:00</text>
<text x="828.5" y="768.6" font-size="9.8" fill="#000" text-anchor="start" font-weight="normal" font-family='"Liberation Sans", sans-serif' textLength="47.3" lengthAdjust="spacingAndGlyphs" text-rendering="geometricPrecision" stroke="#000" stroke-width="0.2">3 Jan 20:00</text>
<text x="892.5" y="768.6" font-size="9.8" fill="#000" text-anchor="start" font-weight="normal" font-family='"Liberation Sans", sans-serif' textLength="47.3" lengthAdjust="spacingAndGlyphs" text-rendering="geometricPrecision" stroke="#000" stroke-width="0.2">7 Jan 04:00</text>
<text x="956.5" y="768.6" font-size="9.8" fill="#000" text-anchor="start" font-weight="normal" font-family='"Liberation Sans", sans-serif' textLength="47.3" lengthAdjust="spacingAndGlyphs" text-rendering="geometricPrecision" stroke="#000" stroke-width="0.2">8 Jan 12:00</text>
<text x="1020.5" y="768.6" font-size="9.8" fill="#000" text-anchor="start" font-weight="normal" font-family='"Liberation Sans", sans-serif' textLength="47.3" lengthAdjust="spacingAndGlyphs" text-rendering="geometricPrecision" stroke="#000" stroke-width="0.2">9 Jan 20:00</text>
<text x="1084.5" y="768.6" font-size="9.8" fill="#000" text-anchor="start" font-weight="normal" font-family='"Liberation Sans", sans-serif' textLength="52.6" lengthAdjust="spacingAndGlyphs" text-rendering="geometricPrecision" stroke="#000" stroke-width="0.2">11 Jan 04:00</text>
<text x="1148.5" y="768.6" font-size="9.8" fill="#000" text-anchor="start" font-weight="normal" font-family='"Liberation Sans", sans-serif' textLength="52.6" lengthAdjust="spacingAndGlyphs" text-rendering="geometricPrecision" stroke="#000" stroke-width="0.2">14 Jan 12:00</text>
<text x="1212.5" y="768.6" font-size="9.8" fill="#000" text-anchor="start" font-weight="normal" font-family='"Liberation Sans", sans-serif' textLength="52.6" lengthAdjust="spacingAndGlyphs" text-rendering="geometricPrecision" stroke="#000" stroke-width="0.2">15 Jan 20:00</text>
<text x="1276.5" y="768.6" font-size="9.8" fill="#000" text-anchor="start" font-weight="normal" font-family='"Liberation Sans", sans-serif' textLength="52.6" lengthAdjust="spacingAndGlyphs" text-rendering="geometricPrecision" stroke="#000" stroke-width="0.2">17 Jan 04:00</text>
<text x="1340.5" y="768.6" font-size="9.8" fill="#000" text-anchor="start" font-weight="normal" font-family='"Liberation Sans", sans-serif' textLength="52.6" lengthAdjust="spacingAndGlyphs" text-rendering="geometricPrecision" stroke="#000" stroke-width="0.2">18 Jan 12:00</text>
<text x="12" y="42.7" font-size="9.8" fill="#000" text-anchor="start" font-weight="normal" font-family='"Liberation Sans", sans-serif' textLength="200.8" lengthAdjust="spacingAndGlyphs" text-rendering="geometricPrecision" stroke="#000" stroke-width="0.2">USDJPY-,H4&#160;&#160;109.677 109.880 109.638 109.767</text>
<text x="2" y="466" font-size="9.8" fill="#000" text-anchor="start" font-weight="normal" font-family='"Liberation Sans", sans-serif' textLength="126.7" lengthAdjust="spacingAndGlyphs" text-rendering="geometricPrecision" stroke="#000" stroke-width="0.2">MACD(12,26,9) 0.2928 0.2064</text>
<text x="2" y="618.7" font-size="9.8" fill="#000" text-anchor="start" font-weight="normal" font-family='"Liberation Sans", sans-serif' textLength="66.4" lengthAdjust="spacingAndGlyphs" text-rendering="geometricPrecision" stroke="#000" stroke-width="0.2">RSI(14) 73.6441</text>
<text x="1063.8" y="292" font-size="20" letter-spacing="3" fill="#00ff00" font-weight="600" font-family='"Liberation Serif","Noto Serif CJK SC",serif'>多空转折点</text>
<text x="1177.8" y="291.6" font-size="21.8" fill="#00ff00" font-weight="bold" font-family='"Liberation Sans", sans-serif'>109.464</text></svg>
<div id="tb"><div class="l0"></div><div class="l1"></div><div class="l26"></div><div class="l27"></div><div class="l28"></div>
<svg width="1629" height="29" viewBox="0 0 1629 29" style="position:absolute;left:0;top:0"><text x="-2.8" y="17.8" font-size="12" font-weight="500" fill="#000" font-family='"Liberation Sans","Noto Sans CJK SC",sans-serif'>单</text>
<defs><linearGradient id="gb" x1="0" y1="0" x2="1" y2="1"><stop offset="0" stop-color="#fbd838"/><stop offset="1" stop-color="#e2a818"/></linearGradient><linearGradient id="gc" x1="0" y1="0" x2="0" y2="1"><stop offset="0" stop-color="#ffffff"/><stop offset="1" stop-color="#b4c2dc"/></linearGradient><radialGradient id="gs" cx=".5" cy=".5" r=".5"><stop offset="0" stop-color="#3ea03e" stop-opacity=".9"/><stop offset="1" stop-color="#6ab86a" stop-opacity=".35"/></radialGradient></defs>
<polygon points="26.2,8 36.2,14.5 37,17 29.1,22.9 20.9,17.2 25.2,12" fill="#c08418"/>
<polygon points="26.7,9.2 35.3,14.8 29.7,19.5 22.4,15.9 25.9,12.2" fill="url(#gb)"/>
<polyline points="21.8,17.4 29.2,21.6 36.2,16.4" fill="none" stroke="#f2d478" stroke-width="1.1"/>
<polygon points="51,7.7 58.3,7.2 62,9.4 55.1,9.4" fill="#4ab0ff"/>
<polygon points="51,7.7 55.1,9.4 55.1,16 51,14.8" fill="#0a84e4"/>
<rect x="55.1" y="9.4" width="6.9" height="6.6" fill="#1e96f2"/>
<rect x="56.2" y="11.5" width="4.9" height="1.2" fill="#e4f2ff"/>
<path d="M51.4 22.4 a2.6 2.6 0 0 1 0.3-5 a3 3 0 0 1 5.4-1.2 a2.6 2.6 0 0 1 3.6 0.8 a2.5 2.5 0 0 1 3.4 2.6 a2 2 0 0 1-1.2 2.8z" fill="url(#gc)" stroke="#4a68a8" stroke-width="1"/>
<path d="M84.9 14.9 L84.9 7.2 A7.7 7.7 0 0 1 85.4 22.6z" fill="url(#gs)"/>
<path d="M84.9 7.3 A7.6 7.6 0 0 0 84.9 22.5" fill="none" stroke="#4a76d8" stroke-width="1.1" stroke-dasharray="2.4,1.1" opacity=".8"/>
<path d="M84.9 10.3 A4.6 4.6 0 0 0 84.9 19.5" fill="none" stroke="#4a76d8" stroke-width="1.1" opacity=".75"/>
<path d="M84.9 7.3 A7.6 7.6 0 0 1 90 20.5" fill="none" stroke="#7aa890" stroke-width="1" opacity=".7"/>
<path d="M84.9 14.9 L84.9 10.3 A4.6 4.6 0 0 1 85.4 19.5z" fill="#58b058" opacity=".55"/>
<circle cx="84.8" cy="14.4" r="1.9" fill="#2858d0"/>
<rect x="84.8" y="15" width="1.3" height="7.8" fill="#22a022"/>
<polygon points="104.1,14.6 119.8,13.3 112.6,22.7" fill="#f4d848" stroke="#c8a020" stroke-width=".8"/>
<ellipse cx="112" cy="11.6" rx="8" ry="2.5" fill="#4aa4d8" stroke="#1c86b8" stroke-width=".7" transform="rotate(-4 112 11.6)"/>
<ellipse cx="112" cy="9.8" rx="3.3" ry="2.6" fill="#7cc4ee" stroke="#2a90c0" stroke-width=".6"/>
<circle cx="116.3" cy="18.8" r="4.1" fill="#d82010"/><rect x="114.8" y="17.3" width="3" height="3" fill="#fff"/>
<text x="125.5" y="17.9" font-size="11.8" font-weight="500" fill="#000" font-family='"Liberation Sans","Noto Sans CJK SC",sans-serif'>自动交易</text>
<rect x="180" y="2" width="1" height="25" fill="#a0a0a0"/><rect x="181" y="2" width="1" height="25" fill="#fafafa"/>
<rect x="184" y="5" width="3" height="1" fill="#a8a8a8"/>
<rect x="184" y="7" width="3" height="1" fill="#a8a8a8"/>
<rect x="184" y="9" width="3" height="1" fill="#a8a8a8"/>
<rect x="184" y="11" width="3" height="1" fill="#a8a8a8"/>
<rect x="184" y="13" width="3" height="1" fill="#a8a8a8"/>
<rect x="184" y="15" width="3" height="1" fill="#a8a8a8"/>
<rect x="184" y="17" width="3" height="1" fill="#a8a8a8"/>
<rect x="184" y="19" width="3" height="1" fill="#a8a8a8"/>
<rect x="184" y="21" width="3" height="1" fill="#a8a8a8"/>
<rect x="184" y="23" width="3" height="1" fill="#a8a8a8"/>
<rect x="198" y="10" width="1" height="13" fill="#555"/><rect x="195" y="20" width="14" height="1" fill="#555"/>
<polygon points="196.8,11.3 198.5,8.8 200.2,11.3" fill="#555"/><polygon points="208,18.8 210.4,20.5 208,22.2" fill="#555"/>
<rect x="204" y="10" width="1.4" height="9" fill="#109010"/><rect x="204" y="11" width="4" height="1.2" fill="#109010"/><rect x="201.5" y="17" width="3" height="1.2" fill="#109010"/>
<rect x="218" y="3" width="25" height="22" fill="#f8f8f8"/>
<rect x="218" y="3" width="25" height="1" fill="#a0a0a0"/><rect x="218" y="3" width="1" height="22" fill="#a0a0a0"/>
<rect x="219" y="24" width="25" height="1" fill="#fff"/><rect x="243" y="4" width="1" height="21" fill="#fff"/>
<rect x="226" y="10" width="1" height="13" fill="#555"/><rect x="223" y="20" width="14" height="1" fill="#555"/>
<polygon points="224.8,11.3 226.5,8.8 228.2,11.3" fill="#555"/><polygon points="236,18.8 238.4,20.5 236,22.2" fill="#555"/>
<rect x="232" y="7" width="1.2" height="12" fill="#109010"/><rect x="230.5" y="9.5" width="4" height="7.5" fill="#48dc48" stroke="#109010" stroke-width="1"/>
<rect x="254" y="10" width="1" height="13" fill="#555"/><rect x="251" y="20" width="14" height="1" fill="#555"/>
<polygon points="252.8,11.3 254.5,8.8 256.2,11.3" fill="#555"/><polygon points="264,18.8 266.4,20.5 264,22.2" fill="#555"/>
<path d="M253 17.5 Q257 10 259.5 12 T265 16.5" fill="none" stroke="#209020" stroke-width="1.3"/>
<rect x="275" y="4" width="1" height="21" fill="#a0a0a0"/>
<line x1="293.9" y1="16.8" x2="299.2" y2="22" stroke="#a8801c" stroke-width="3.2" stroke-linecap="round"/>
<line x1="293.9" y1="16.8" x2="299.2" y2="22" stroke="#ecd040" stroke-width="1.8" stroke-linecap="round"/>
<circle cx="289.9" cy="12.8" r="5.3" fill="#d2ecfa" stroke="#3a7cd0" stroke-width="1.2"/>
<rect x="286.9" y="12.1" width="6" height="1.5" fill="#2a7aa8"/>
<rect x="289.15" y="9.8" width="1.5" height="6" fill="#2a7aa8"/>
<line x1="321.8" y1="16.8" x2="327.1" y2="22" stroke="#a8801c" stroke-width="3.2" stroke-linecap="round"/>
<line x1="321.8" y1="16.8" x2="327.1" y2="22" stroke="#ecd040" stroke-width="1.8" stroke-linecap="round"/>
<circle cx="317.8" cy="12.8" r="5.3" fill="#d2ecfa" stroke="#3a7cd0" stroke-width="1.2"/>
<rect x="314.8" y="12.1" width="6" height="1.5" fill="#2a7aa8"/>
<rect x="340.2" y="7.2" width="7.8" height="7.6" fill="#38a818"/>
<path d="M341.5 14.0 v-3.6 h5.2 v3.6 h-1 v-1 h-3.2 v1z" fill="#fff"/>
<rect x="342.5" y="11.4" width="3.2" height=".8" fill="#38a818" opacity=".5"/>
<rect x="348.4" y="7.2" width="7.8" height="7.6" fill="#1c4cc8"/>
<path d="M349.7 14.0 v-3.6 h5.2 v3.6 h-1 v-1 h-3.2 v1z" fill="#fff"/>
<rect x="350.7" y="11.4" width="3.2" height=".8" fill="#1c4cc8" opacity=".5"/>
<rect x="340.2" y="15.1" width="7.8" height="7.6" fill="#1c4cc8"/>
<path d="M341.5 21.9 v-3.6 h5.2 v3.6 h-1 v-1 h-3.2 v1z" fill="#fff"/>
<rect x="342.5" y="19.3" width="3.2" height=".8" fill="#1c4cc8" opacity=".5"/>
<rect x="348.4" y="15.1" width="7.8" height="7.6" fill="#38a818"/>
<path d="M349.7 21.9 v-3.6 h5.2 v3.6 h-1 v-1 h-3.2 v1z" fill="#fff"/>
<rect x="350.7" y="19.3" width="3.2" height=".8" fill="#38a818" opacity=".5"/>
<rect x="365" y="4" width="1" height="21" fill="#a0a0a0"/>
<rect x="370" y="3" width="25" height="22" fill="#f8f8f8"/>
<rect x="370" y="3" width="25" height="1" fill="#a0a0a0"/><rect x="370" y="3" width="1" height="22" fill="#a0a0a0"/>
<rect x="371" y="24" width="25" height="1" fill="#fff"/><rect x="395" y="4" width="1" height="21" fill="#fff"/>
<rect x="378" y="10" width="1" height="13" fill="#555"/><rect x="375" y="20" width="14" height="1" fill="#555"/>
<polygon points="376.8,11.3 378.5,8.8 380.2,11.3" fill="#555"/><polygon points="388,18.8 390.4,20.5 388,22.2" fill="#555"/>
<polygon points="383.5,11.3 387,14.6 383.5,18" fill="#40d040" stroke="#109010" stroke-width="1"/>
<rect x="398" y="3" width="25" height="22" fill="#f8f8f8"/>
<rect x="398" y="3" width="25" height="1" fill="#a0a0a0"/><rect x="398" y="3" width="1" height="22" fill="#a0a0a0"/>
<rect x="399" y="24" width="25" height="1" fill="#fff"/><rect x="423" y="4" width="1" height="21" fill="#fff"/>
<rect x="406" y="10" width="1" height="13" fill="#555"/><rect x="403" y="20" width="14" height="1" fill="#555"/>
<polygon points="404.8,11.3 406.5,8.8 408.2,11.3" fill="#555"/><polygon points="416,18.8 418.4,20.5 416,22.2" fill="#555"/>
<rect x="412" y="9.5" width="1.3" height="9.5" fill="#1c6cb0"/>
<polygon points="413.8,14.6 417,12.2 416.3,14.6 417,17" fill="#d03808"/><rect x="415" y="14.1" width="3.2" height="1" fill="#d03808"/>
<rect x="427" y="4" width="1" height="21" fill="#a0a0a0"/>
<path d="M437.5 8 h8 l3.5 3.5 v9 h-11.5z" fill="#fafafa" stroke="#909090" stroke-width="1"/>
<path d="M441 11 v6 M441 13.5 h2" stroke="#b0b0b0" stroke-width="1" fill="none"/>
<path d="M445.2 13.5 h3.8 v3.9 h3.9 v3.8 h-3.9 v3.9 h-3.8 v-3.9 h-3.9 v-3.8 h3.9z" fill="#30d030" stroke="#109810" stroke-width=".9"/>
<polygon points="458.0,13.5 465.0,13.5 461.5,17" fill="#000"/>
<circle cx="483" cy="15.2" r="7.2" fill="#fdfdfd" stroke="#1a66d2" stroke-width="2.6"/>
<circle cx="483" cy="15.2" r="8.2" fill="none" stroke="#0c48a8" stroke-width=".6"/>
<path d="M482.8 10.5 v5 h3" stroke="#303030" stroke-width="1.3" fill="none"/>
<polygon points="497.0,13.5 504.0,13.5 500.5,17" fill="#000"/>
<rect x="514.5" y="8.5" width="15.5" height="13" fill="#fff" stroke="#3674c4" stroke-width="1.2"/>
<rect x="515" y="9" width="14.5" height="2" fill="#a8d0f4"/>
<rect x="515" y="15.4" width="14.5" height="1" fill="#3674c4"/>
<polyline points="516.5,14 519,14 521.5,12.6 524,13.6 527,12.6 528.5,12.6" fill="none" stroke="#b02010" stroke-width="1.3"/>
<polyline points="517,19.6 519.5,19.6 522,18.6 525,17.2 527.5,19.6" fill="none" stroke="#109020" stroke-width="1.3"/>
<polygon points="536.0,13.5 543.0,13.5 539.5,17" fill="#000"/>
<rect x="548" y="2" width="1" height="25" fill="#a0a0a0"/><rect x="549" y="2" width="1" height="25" fill="#fafafa"/>
<rect x="552" y="5" width="3" height="1" fill="#a8a8a8"/>
<rect x="552" y="7" width="3" height="1" fill="#a8a8a8"/>
<rect x="552" y="9" width="3" height="1" fill="#a8a8a8"/>
<rect x="552" y="11" width="3" height="1" fill="#a8a8a8"/>
<rect x="552" y="13" width="3" height="1" fill="#a8a8a8"/>
<rect x="552" y="15" width="3" height="1" fill="#a8a8a8"/>
<rect x="552" y="17" width="3" height="1" fill="#a8a8a8"/>
<rect x="552" y="19" width="3" height="1" fill="#a8a8a8"/>
<rect x="552" y="21" width="3" height="1" fill="#a8a8a8"/>
<rect x="552" y="23" width="3" height="1" fill="#a8a8a8"/>
<rect x="558" y="3" width="25" height="22" fill="#f8f8f8"/>
<rect x="558" y="3" width="25" height="1" fill="#a0a0a0"/><rect x="558" y="3" width="1" height="22" fill="#a0a0a0"/>
<rect x="559" y="24" width="25" height="1" fill="#fff"/><rect x="583" y="4" width="1" height="21" fill="#fff"/>
<polygon points="566,8 566,19 568.8,16.8 571,21.8 573,21 570.8,16 574.2,15.6" fill="#505050"/>
<rect x="591" y="15" width="6.5" height="1" fill="#404040"/><rect x="599.5" y="15" width="6.5" height="1" fill="#404040"/><rect x="598" y="8" width="1" height="6.5" fill="#404040"/><rect x="598" y="16.5" width="1" height="6.5" fill="#404040"/>
<rect x="615" y="4" width="1" height="21" fill="#a0a0a0"/>
<rect x="632" y="9.2" width="1.3" height="12.5" fill="#404040"/>
<rect x="655" y="14.8" width="12" height="1.2" fill="#404040"/>
<line x1="682.8" y1="21.7" x2="695.2" y2="9.7" stroke="#505050" stroke-width="1.2"/>
<line x1="708.5" y1="16.0" x2="719.0" y2="8.0" stroke="#505050" stroke-width="1"/>
<line x1="711.38" y1="18.88" x2="719.96" y2="10.88" stroke="#505050" stroke-width="1"/>
<line x1="714.26" y1="21.76" x2="720.92" y2="13.760000000000002" stroke="#505050" stroke-width="1"/>
<line x1="711.5" y1="20" x2="714.5" y2="10" stroke="#505050" stroke-width="1"/><line x1="716" y1="19" x2="719.5" y2="8" stroke="#505050" stroke-width="1"/>
<text x="719.6" y="23.6" font-size="6.5" font-weight="bold" fill="#303030" font-family='"Liberation Sans",sans-serif'>E</text>
<line x1="738" y1="8.5" x2="751" y2="8.5" stroke="#505050" stroke-width="1" stroke-dasharray="1,1"/>
<line x1="738" y1="11.8" x2="751" y2="11.8" stroke="#505050" stroke-width="1" stroke-dasharray="1,1"/>
<line x1="738" y1="15.5" x2="751" y2="15.5" stroke="#505050" stroke-width="1" stroke-dasharray="1,1"/>
<line x1="738" y1="19.5" x2="747" y2="19.5" stroke="#505050" stroke-width="1" stroke-dasharray="1,1"/>
<text x="747.6" y="23.6" font-size="6.5" font-weight="bold" fill="#303030" font-family='"Liberation Sans",sans-serif'>F</text>
<text x="768" y="19.6" font-size="11.6" font-weight="bold" fill="#606060" font-family='"Liberation Sans",sans-serif'>A</text>
<rect x="795.5" y="9.5" width="11" height="12" fill="none" stroke="#505050" stroke-width="1" stroke-dasharray="1,1" shape-rendering="crispEdges"/>
<text x="797" y="20" font-size="11" font-weight="bold" fill="#606060" font-family='"Liberation Sans",sans-serif'>T</text>
<polygon points="822.5,12.5 826,9 829.5,12.5 826,14.5" fill="#505050"/>
<polygon points="829,19 836,19 832.5,22" fill="#505050"/><polygon points="829.5,19 832.5,16.5 835.5,19" fill="#505050"/>
<polyline points="824.5,16.5 826.5,18.5 831,12.5" fill="none" stroke="#505050" stroke-width="1.3"/>
<polygon points="842.0,13.5 849.0,13.5 845.5,17" fill="#000"/>
<rect x="854" y="2" width="1" height="25" fill="#a0a0a0"/><rect x="855" y="2" width="1" height="25" fill="#fafafa"/>
<rect x="858" y="5" width="3" height="1" fill="#a8a8a8"/>
<rect x="858" y="7" width="3" height="1" fill="#a8a8a8"/>
<rect x="858" y="9" width="3" height="1" fill="#a8a8a8"/>
<rect x="858" y="11" width="3" height="1" fill="#a8a8a8"/>
<rect x="858" y="13" width="3" height="1" fill="#a8a8a8"/>
<rect x="858" y="15" width="3" height="1" fill="#a8a8a8"/>
<rect x="858" y="17" width="3" height="1" fill="#a8a8a8"/>
<rect x="858" y="19" width="3" height="1" fill="#a8a8a8"/>
<rect x="858" y="21" width="3" height="1" fill="#a8a8a8"/>
<rect x="858" y="23" width="3" height="1" fill="#a8a8a8"/>
<rect x="1004" y="3" width="25" height="22" fill="#f8f8f8"/>
<rect x="1004" y="3" width="25" height="1" fill="#a0a0a0"/><rect x="1004" y="3" width="1" height="22" fill="#a0a0a0"/>
<rect x="1005" y="24" width="25" height="1" fill="#fff"/><rect x="1029" y="4" width="1" height="21" fill="#fff"/>
<text x="876" y="19" font-size="9" fill="#303030" text-anchor="middle" font-family='"Liberation Sans",sans-serif'>M1</text>
<text x="904" y="19" font-size="9" fill="#303030" text-anchor="middle" font-family='"Liberation Sans",sans-serif'>M5</text>
<text x="932.5" y="19" font-size="9" fill="#303030" text-anchor="middle" font-family='"Liberation Sans",sans-serif'>M15</text>
<text x="960.5" y="19" font-size="9" fill="#303030" text-anchor="middle" font-family='"Liberation Sans",sans-serif'>M30</text>
<text x="988.6" y="19" font-size="9" fill="#303030" text-anchor="middle" font-family='"Liberation Sans",sans-serif'>H1</text>
<text x="1016" y="19" font-size="9" fill="#303030" text-anchor="middle" font-family='"Liberation Sans",sans-serif'>H4</text>
<text x="1044.3" y="19" font-size="9" fill="#303030" text-anchor="middle" font-family='"Liberation Sans",sans-serif'>D1</text>
<text x="1073.3" y="19" font-size="9" fill="#303030" text-anchor="middle" font-family='"Liberation Sans",sans-serif'>W1</text>
<text x="1100" y="19" font-size="9" fill="#303030" text-anchor="middle" font-family='"Liberation Sans",sans-serif'>MN</text>
<rect x="1115" y="2" width="1" height="25" fill="#a0a0a0"/><rect x="1116" y="2" width="1" height="25" fill="#fafafa"/>
<circle cx="1585.5" cy="12.5" r="3.6" fill="none" stroke="#2a60c8" stroke-width="1.6"/><line x1="1582.8" y1="15.6" x2="1578" y2="20" stroke="#2a60c8" stroke-width="2" stroke-linecap="round"/>
<path d="M1604.5 16 a4.8 3.6 0 1 1 7.5 2.8 l-3 0 l-2 2 l.2-2.2 a4.8 3.6 0 0 1-2.7-2.6z" fill="#fbfbfb" stroke="#8f8f8f" stroke-width="1"/>
<path d="M1611 11.5 a6.2 4.4 0 1 1 8.5 4.2 l1 2.4 l-3.2-1.8 a6.2 4.4 0 0 1-6.3-4.8z" fill="#fdfdfd" stroke="#8f8f8f" stroke-width="1"/></svg>
</div>
<div id="pn">
<div class="tab" style="left:0"><span style="left:10.5px;top:3.6px;transform:scaleX(.88)">SELL</span></div>
<div class="tab" style="left:167px"><span style="left:12.5px;top:3.6px;transform:scaleX(.93)">BUY</span></div>
<div class="spin"><div class="sb" style="left:0;border-right:1px solid #a8a8a8"></div><div class="sb" style="right:0;border-left:1px solid #a8a8a8"></div>
<svg style="position:absolute;left:0;top:0" width="109" height="20"><polygon points="6.5,8.3 12.5,8.3 9.5,11.3" fill="#000"/><polygon points="96,11.5 102,11.5 99,8.5" fill="#000"/></svg>
<div style="right:24px;top:3px;font-size:12.3px;line-height:14px;color:#000">0.10</div></div>
<div class="pp" style="left:0;width:109px"><div class="sm" style="left:22.8px;top:19.5px">109</div><div class="big" style="left:46.8px;top:0.7px">76</div><div class="sup" style="left:86px;top:3.5px">7</div></div>
<div class="pp" style="left:111px;width:108px"><div class="sm" style="left:22px;top:19.5px">109</div><div class="big" style="left:46.8px;top:0.7px">78</div><div class="sup" style="left:86px;top:3.5px">6</div></div>
<div class="ul" style="left:4px;top:25px;width:44px"></div>
<div class="ul" style="left:171px;top:25px;width:44px"></div>
</div>

</body></html>
